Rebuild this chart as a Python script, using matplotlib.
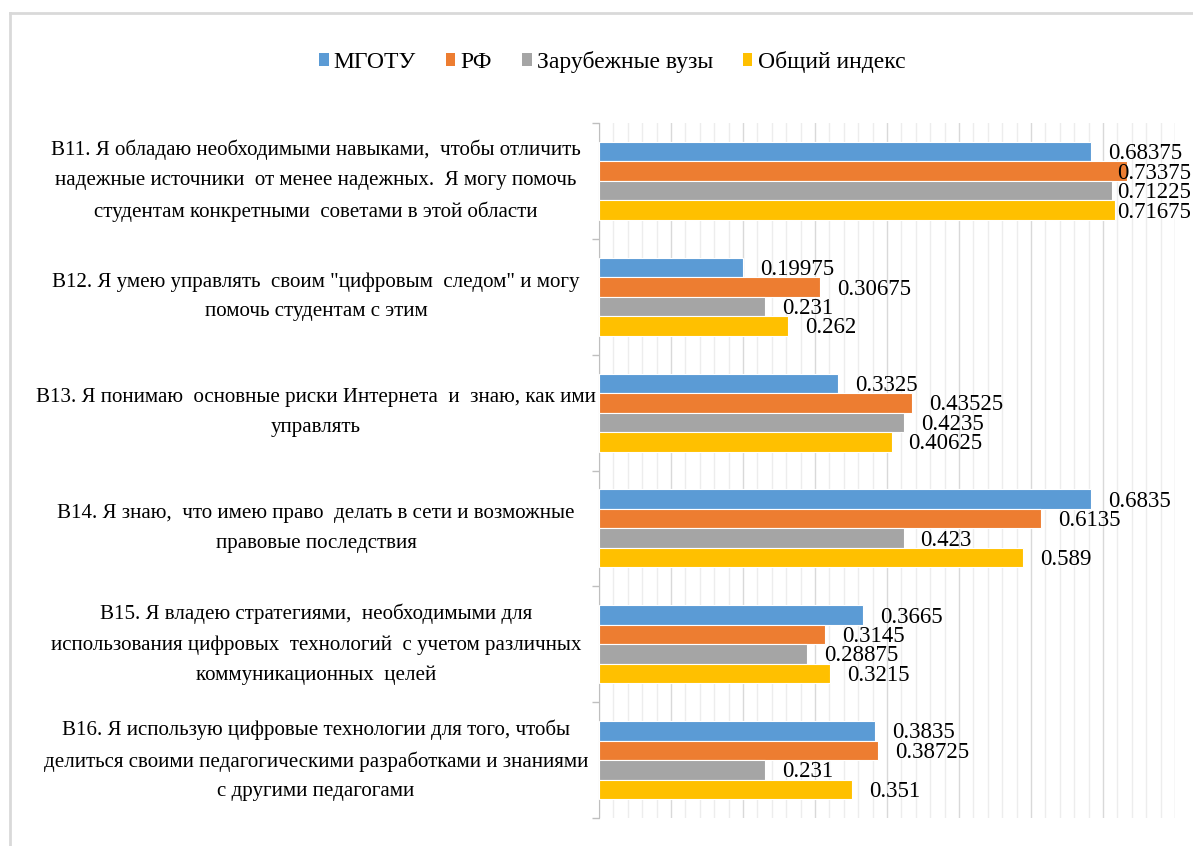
import matplotlib.pyplot as plt
from matplotlib.patches import Patch
from matplotlib.lines import Line2D
from matplotlib.ticker import MultipleLocator
import matplotlib.transforms as mtrans

plt.rcParams['font.family'] = ['Liberation Serif', 'DejaVu Serif']

# данные
categories = [
    'В11. Я обладаю необходимыми навыками,  чтобы отличить\nнадежные источники  от менее надежных.  Я могу помочь\nстудентам конкретными  советами в этой области',
    'В12. Я умею управлять  своим "цифровым  следом" и могу\nпомочь студентам с этим',
    'В13. Я понимаю  основные риски Интернета  и  знаю, как ими\nуправлять',
    'В14. Я знаю,  что имею право  делать в сети и возможные\nправовые последствия',
    'В15. Я владею стратегиями,  необходимыми для\nиспользования цифровых  технологий  с учетом различных\nкоммуникационных  целей',
    'В16. Я использую цифровые технологии для того, чтобы\nделиться своими педагогическими разработками и знаниями\nс другими педагогами',
]
series_names = ['МГОТУ', 'РФ', 'Зарубежные вузы', 'Общий индекс']
mgotu = [0.68375, 0.19975, 0.3325, 0.6835, 0.3665, 0.3835]
rf = [0.73375, 0.30675, 0.43525, 0.6135, 0.3145, 0.38725]
foreign = [0.71225, 0.231, 0.4235, 0.423, 0.28875, 0.231]
total = [0.71675, 0.262, 0.40625, 0.589, 0.3215, 0.351]
series = [mgotu, rf, foreign, total]
colors = ['#5B9BD5', '#ED7D31', '#A5A5A5', '#FFC000']

W, H = 1193, 846
fig = plt.figure(figsize=(W / 100, H / 100), dpi=100)
ax = fig.add_axes([599 / W, 1 - 818 / H, (1175 - 599) / W, (818 - 123) / H])

bh = 0.168
labels = []
for j, vals in enumerate(series):
    for i, v in enumerate(vals):
        y = i + (j - 1.5) * bh
        ax.barh(y, v, height=bh, color=colors[j], edgecolor='white', linewidth=0.8, zorder=3)
        t = ax.annotate(str(v), xy=(v, y), xytext=(17, -2), textcoords='offset pixels',
                        va='center', ha='left', fontsize=16.5, zorder=4)
        labels.append(t)

ax.set_xlim(0, 0.8)
ax.set_ylim(len(categories) - 0.5, -0.5)
ax.xaxis.set_major_locator(MultipleLocator(0.1))
ax.xaxis.set_minor_locator(MultipleLocator(0.02))
ax.grid(True, axis='x', which='major', color='#D9D9D9', linewidth=1, zorder=0)
ax.grid(True, axis='x', which='minor', color='#EDEDED', linewidth=1, zorder=0)
ax.tick_params(axis='x', which='both', bottom=False, labelbottom=False)

ax.set_yticks([k - 0.5 for k in range(len(categories) + 1)])
ax.set_yticklabels([])
ax.tick_params(axis='y', length=5, color='#BFBFBF', width=1)
for s in ['top', 'right', 'bottom']:
    ax.spines[s].set_visible(False)
ax.spines['left'].set_color('#BFBFBF')

tr = mtrans.blended_transform_factory(fig.transFigure, ax.transData)
for i, lab in enumerate(categories):
    ax.text(316 / W, i, lab, transform=tr, ha='center', va='center',
            multialignment='center', fontsize=15.1, linespacing=1.75)

handles = [Patch(facecolor=c, edgecolor='none') for c in colors]
fig.legend(handles, series_names, loc='center', bbox_to_anchor=(612 / W, 1 - 62 / H),
           ncol=4, frameon=False, fontsize=17, handlelength=0.42, handleheight=0.42,
           handletextpad=0.22, columnspacing=1.25)

# рамка диаграммы
fig.add_artist(Line2D([10 / W, 1], [1 - 13 / H, 1 - 13 / H], transform=fig.transFigure,
                      color='#D9D9D9', linewidth=2))
fig.add_artist(Line2D([10 / W, 10 / W], [0, 1 - 13 / H], transform=fig.transFigure,
                      color='#D9D9D9', linewidth=2))

# подписи, которые не помещаются, сдвигаем влево (как в Excel)
fig.canvas.draw()
r = fig.canvas.get_renderer()
for t in labels:
    bb = t.get_window_extent(r)
    if bb.x1 > W - 2:
        dx, dy = t.xyann
        t.xyann = (dx - (bb.x1 - (W - 2)), dy)

fig.savefig('out.png', dpi=100)
